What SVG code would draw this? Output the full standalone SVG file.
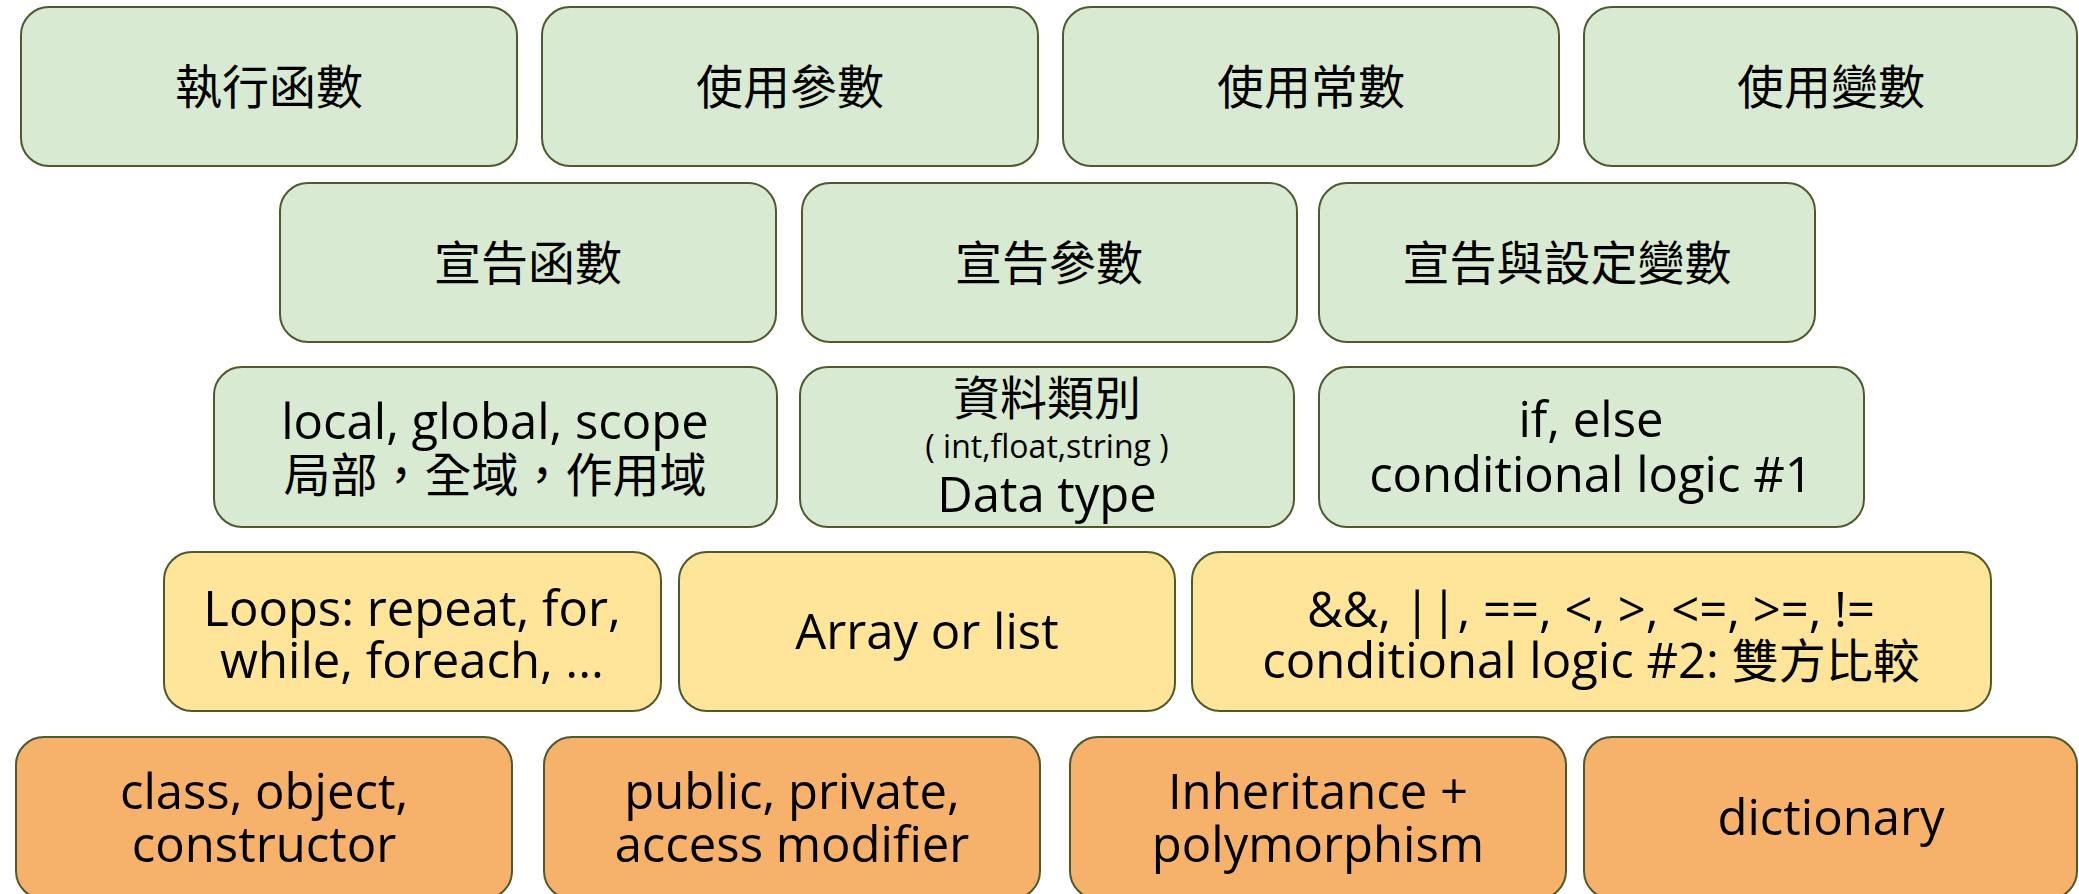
<svg xmlns="http://www.w3.org/2000/svg" width="2079" height="894" viewBox="0 0 2079 894">
<style>
.box{stroke:#4e5a2e;stroke-width:2}
.g{fill:#d9ead3}
.y{fill:#ffe599}
.o{fill:#f6b26b}
text{font-family:"Open Sans","Noto Sans CJK TC",sans-serif;font-size:49px;fill:#000;text-anchor:middle}
.cjk{font-family:"Noto Sans CJK TC",sans-serif;font-size:47px}
.sm{font-size:32px}
</style>
<rect width="2079" height="894" fill="#fff"/>
<g id="connectors"></g>
<g id="n1"><rect class="box g" x="21" y="7" width="496" height="159" rx="28"/><text class="cjk" x="269" y="104">執行函數</text></g>
<g id="n2"><rect class="box g" x="542" y="7" width="496" height="159" rx="28"/><text class="cjk" x="790" y="104">使用參數</text></g>
<g id="n3"><rect class="box g" x="1063" y="7" width="496" height="159" rx="28"/><text class="cjk" x="1311" y="104">使用常數</text></g>
<g id="n4"><rect class="box g" x="1584" y="7" width="493" height="159" rx="28"/><text class="cjk" x="1831" y="104">使用變數</text></g>

<g id="n5"><rect class="box g" x="280" y="183" width="496" height="159" rx="28"/><text class="cjk" x="528" y="280">宣告函數</text></g>
<g id="n6"><rect class="box g" x="802" y="183" width="495" height="159" rx="28"/><text class="cjk" x="1049" y="280">宣告參數</text></g>
<g id="n7"><rect class="box g" x="1319" y="183" width="496" height="159" rx="28"/><text class="cjk" x="1567" y="280">宣告與設定變數</text></g>

<g id="n8"><rect class="box g" x="214" y="367" width="563" height="160" rx="28"/><text x="495" y="439">local, global, scope</text><text class="cjk" x="495" y="492">局部，全域，作用域</text></g>
<g id="n9"><rect class="box g" x="800" y="367" width="494" height="160" rx="28"/><text class="cjk" x="1047" y="415">資料類別</text><text class="sm" x="1047" y="458">( int,float,string )</text><text x="1047" y="512">Data type</text></g>
<g id="n10"><rect class="box g" x="1319" y="367" width="545" height="160" rx="28"/><text x="1591" y="437">if, else</text><text x="1591" y="492">conditional logic #1</text></g>

<g id="n11"><rect class="box y" x="164" y="552" width="497" height="159" rx="28"/><text x="412" y="626">Loops: repeat, for,</text><text x="412" y="678">while, foreach, ...</text></g>
<g id="n12"><rect class="box y" x="679" y="552" width="496" height="159" rx="28"/><text x="927" y="649">Array or list</text></g>
<g id="n13"><rect class="box y" x="1192" y="552" width="799" height="159" rx="28"/><text x="1591" y="627">&amp;&amp;, ||, ==, &lt;, &gt;, &lt;=, &gt;=, !=</text><text x="1591" y="678">conditional logic #2: <tspan style="font-size:47px">雙方比較</tspan></text></g>

<g id="n14"><rect class="box o" x="16" y="737" width="496" height="162" rx="28"/><text x="264" y="809">class, object,</text><text x="264" y="862">constructor</text></g>
<g id="n15"><rect class="box o" x="544" y="737" width="496" height="162" rx="28"/><text x="792" y="809">public, private,</text><text x="792" y="862">access modifier</text></g>
<g id="n16"><rect class="box o" x="1070" y="737" width="496" height="162" rx="28"/><text x="1318" y="809">Inheritance +</text><text x="1318" y="862">polymorphism</text></g>
<g id="n17"><rect class="box o" x="1584" y="737" width="493" height="162" rx="28"/><text x="1831" y="835">dictionary</text></g>
</svg>
